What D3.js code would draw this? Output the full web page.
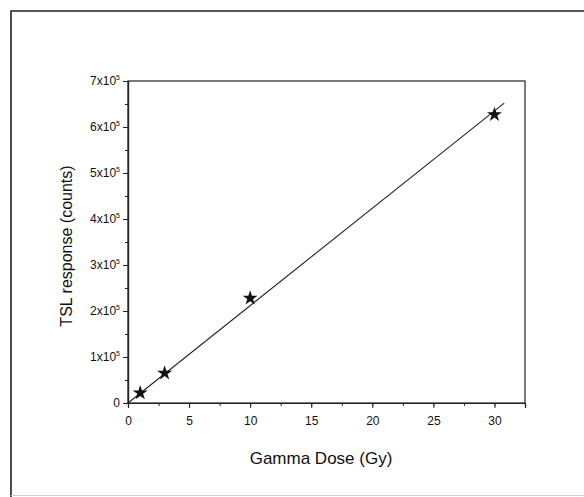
<!DOCTYPE html>
<html>
<head>
<meta charset="utf-8">
<script src="https://cdn.jsdelivr.net/npm/d3@7"></script>
<style>
body{margin:0;background:#fff;}
text{font-family:"Liberation Sans",Arial,sans-serif;fill:#111;}
</style>
</head>
<body>
<div id="chart"></div>
<script>
// dose (Gy) vs TSL counts
let doses = [1, 3, 10, 30];
let counts = [22000, 65000, 228000, 627000];
// the fitted straight line, two end points
let fitDose = [0, 30.8];
let fitCounts = [0, 652000];
let xTicks = [0, 5, 10, 15, 20, 25, 30];
let yTicks = [0, 1, 2, 3, 4, 5, 6, 7];

let width = 584, height = 497;
let mLeft = 128, mRight = 525, mTop = 81, mBottom = 403;

let svg = d3.select("#chart").append("svg")
    .attr("width", width)
    .attr("height", height);

// scanned page frame
svg.append("path")
    .attr("d", "M11,497 L11,11 L584,11")
    .attr("fill", "none")
    .attr("stroke", "#222")
    .attr("stroke-width", 1.6);
svg.append("line")
    .attr("x1", 11).attr("x2", 584)
    .attr("y1", 495.5).attr("y2", 495.5)
    .attr("stroke", "#ccc")
    .attr("stroke-width", 1);

let x = d3.scaleLinear().domain([0, 32.5]).range([mLeft, mRight]);
let y = d3.scaleLinear().domain([0, 700000]).range([mBottom, mTop]);

// plot box
svg.append("rect")
    .attr("x", mLeft).attr("y", mTop)
    .attr("width", mRight-mLeft).attr("height", mBottom-mTop)
    .attr("fill", "none")
    .attr("stroke", "#222")
    .attr("stroke-width", 1.2);

// minor ticks
let xAxisMinor = d3.axisBottom(x).tickValues(d3.range(0, 32.6, 2.5)).tickSize(3).tickFormat("");
let yAxisMinor = d3.axisLeft(y).tickValues(d3.range(0, 700001, 50000)).tickSize(3).tickFormat("");
svg.append("g").attr("transform", `translate(0,${mBottom})`).call(xAxisMinor);
svg.append("g").attr("transform", `translate(${mLeft},0)`).call(yAxisMinor);

let xAxis = d3.axisBottom(x).tickValues(xTicks).tickSize(5).tickPadding(8);
let gx = svg.append("g").attr("transform", `translate(0,${mBottom})`).call(xAxis);
gx.selectAll("text").style("font-size", "12px");

let yAxis = d3.axisLeft(y).tickValues(yTicks.map(d => d*100000)).tickSize(5).tickPadding(5).tickFormat("");
let gy = svg.append("g").attr("transform", `translate(${mLeft},0)`).call(yAxis);

svg.selectAll(".domain").attr("stroke", "#222").attr("stroke-width", 1.2);
svg.selectAll(".tick line").attr("stroke", "#222");

// y tick labels like 7x10^5
yTicks.forEach(function(t){
    let lab = svg.append("text")
        .attr("x", mLeft-8)
        .attr("y", y(t*100000)+4)
        .attr("text-anchor", "end")
        .style("font-size", "12px");
    if(t == 0){
        lab.text("0");
    } else {
        lab.append("tspan").text(t+"x10");
        lab.append("tspan").text("5").attr("dy", -5).style("font-size", "7px");
    }
});

// fit line
let line = d3.line().x(d => x(d[0])).y(d => y(d[1]));
svg.append("path")
    .datum(d3.zip(fitDose, fitCounts))
    .attr("d", line)
    .attr("fill", "none")
    .attr("stroke", "#222")
    .attr("stroke-width", 1.1);

// star markers
let star = d3.symbol().type(d3.symbolStar).size(70);
svg.selectAll(".pt")
    .data(d3.zip(doses, counts))
    .join("path")
    .attr("class", "pt")
    .attr("d", star)
    .attr("transform", d => `translate(${x(d[0])},${y(d[1])})`)
    .attr("fill", "#111");

// axis titles
svg.append("text")
    .attr("x", 321).attr("y", 464)
    .attr("text-anchor", "middle")
    .style("font-size", "17px")
    .text("Gamma Dose (Gy)");
svg.append("text")
    .attr("transform", "translate(72,246) rotate(-90)")
    .attr("text-anchor", "middle")
    .style("font-size", "16px")
    .text("TSL response (counts)");
</script>
</body>
</html>
